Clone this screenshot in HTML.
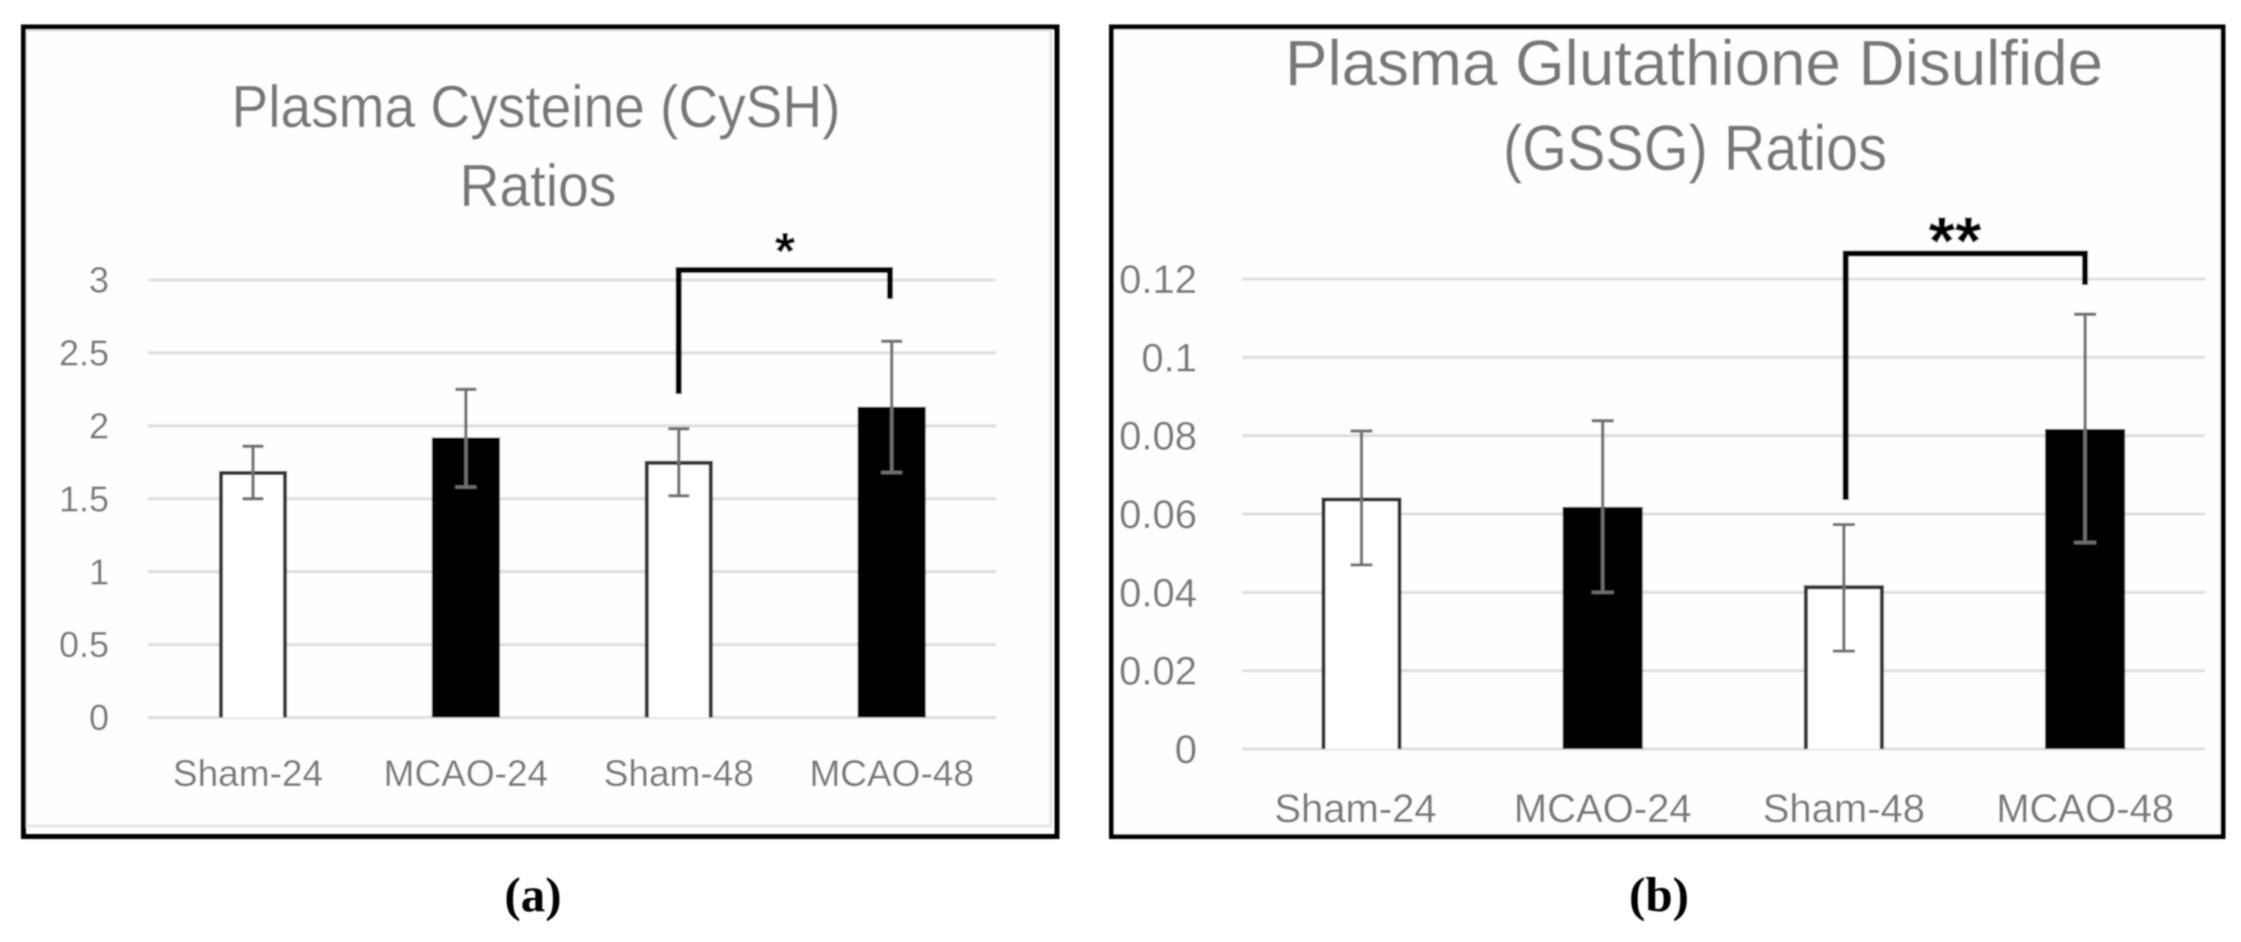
<!DOCTYPE html>
<html lang="en">
<head>
<meta charset="utf-8">
<title>Plasma Cysteine and Glutathione Disulfide Ratios</title>
<style>
html,body{margin:0;padding:0;background:#fff;width:2241px;height:942px;overflow:hidden}
svg{display:block}
text{font-family:"Liberation Sans",sans-serif}
</style>
</head>
<body>
<svg id="figure" xmlns="http://www.w3.org/2000/svg" width="2241" height="942" viewBox="0 0 2241 942">
  <defs>
    <filter id="soft" x="-2%" y="-2%" width="104%" height="104%"><feGaussianBlur stdDeviation="0.9"/></filter>
  </defs>
  <g filter="url(#soft)">
    <g id="panel-a">
      <rect x="26" y="30" width="1025" height="796" fill="#fefefe" stroke="#e6e6e6" stroke-width="3"/>
      <rect x="23.5" y="27" width="1033.5" height="809.5" fill="none" stroke="#000" stroke-width="5"/>
      <text x="536" y="127" font-size="59" fill="#777" text-anchor="middle" textLength="609" lengthAdjust="spacingAndGlyphs">Plasma Cysteine (CySH)</text>
      <text x="538" y="206" font-size="59" fill="#777" text-anchor="middle" textLength="157" lengthAdjust="spacingAndGlyphs">Ratios</text>
      <g id="plot-a"></g>
      <path d="M678.7 394V270H890V299" fill="none" stroke="#000" stroke-width="6"/>
      <text x="785" y="269" font-size="52" font-weight="bold" fill="#000" text-anchor="middle">*</text>
      <text x="533" y="911" font-size="49" font-weight="bold" fill="#000" text-anchor="middle" style="font-family:'Liberation Serif',serif">(a)</text>
    </g>
    <g id="panel-b">
      <rect x="1111.5" y="27" width="1111.5" height="809.5" fill="#fefefe" stroke="#000" stroke-width="5"/>
      <text x="1694" y="85" font-size="64" fill="#777" text-anchor="middle" textLength="818" lengthAdjust="spacingAndGlyphs">Plasma Glutathione Disulfide</text>
      <text x="1695" y="170" font-size="64" fill="#777" text-anchor="middle" textLength="384" lengthAdjust="spacingAndGlyphs">(GSSG) Ratios</text>
      <g id="plot-b"></g>
      <path d="M1845.7 500V253.5H2085V285" fill="none" stroke="#000" stroke-width="6"/>
      <text x="1955" y="264" font-size="68" font-weight="bold" fill="#000" text-anchor="middle">**</text>
      <text x="1659" y="911" font-size="49" font-weight="bold" fill="#000" text-anchor="middle" style="font-family:'Liberation Serif',serif">(b)</text>
    </g>
  </g>
</svg>
<script>
const categories = ['Sham-24', 'MCAO-24', 'Sham-48', 'MCAO-48'];
const barFilled = [false, true, false, true];

const cysteineTicks = [0, 0.5, 1, 1.5, 2, 2.5, 3];
const cysteineTickLabels = ['0', '0.5', '1', '1.5', '2', '2.5', '3'];
const cysteineValues = [1.69, 1.92, 1.76, 2.13];
const cysteineErrorHigh = [1.86, 2.25, 1.98, 2.58];
const cysteineErrorLow = [1.50, 1.58, 1.52, 1.68];

const gssgTicks = [0, 0.02, 0.04, 0.06, 0.08, 0.1, 0.12];
const gssgTickLabels = ['0', '0.02', '0.04', '0.06', '0.08', '0.1', '0.12'];
const gssgValues = [0.0642, 0.0618, 0.0418, 0.0817];
const gssgErrorHigh = [0.0812, 0.0838, 0.0573, 0.111];
const gssgErrorLow = [0.047, 0.040, 0.025, 0.0527];

const SVG_NS = 'http://www.w3.org/2000/svg';
function make(tag, attrs) {
  const el = document.createElementNS(SVG_NS, tag);
  for (const k in attrs) el.setAttribute(k, attrs[k]);
  return el;
}

function drawChart(root, layout, ticks, tickLabels, values, errHigh, errLow) {
  const yScale = v => layout.y0 + (layout.yMax - layout.y0) * v / layout.maxValue;
  const xScale = i => layout.x0 + layout.step * i;

  ticks.forEach((t, i) => {
    const grid = make('line', { x1: layout.gridLeft, x2: layout.gridRight, y1: yScale(t), y2: yScale(t), stroke: '#dedede', 'stroke-width': 3 });
    
    
    root.appendChild(grid);

    const label = make('text', { x: layout.tickX, y: yScale(t) + layout.fontSize * 0.35, 'font-size': layout.fontSize, fill: '#777', 'text-anchor': 'end' });
    
    
    label.textContent = tickLabels[i];
    root.appendChild(label);
  });

  categories.forEach((name, i) => {
    const cx = xScale(i);
    const half = layout.barWidth / 2;
    const top = yScale(values[i]);
    const base = yScale(0);

    let bar;
    if (barFilled[i]) {
      bar = make('rect', { x: cx - half, y: top, width: layout.barWidth, height: base - top, fill: '#000' });
    } else {
      bar = make('path', { d: 'M' + (cx - half + 2) + ' ' + base + 'V' + (top + 2) + 'H' + (cx + half - 2) + 'V' + base, fill: '#fff', stroke: '#333', 'stroke-width': 4 });
    }
    
    
    root.appendChild(bar);

    const hi = yScale(errHigh[i]);
    const lo = yScale(errLow[i]);
    const errorBar = make('path', {
      d: 'M' + cx + ' ' + hi + 'V' + lo +
         'M' + (cx - layout.capHalf) + ' ' + hi + 'H' + (cx + layout.capHalf) +
         'M' + (cx - layout.capHalf) + ' ' + lo + 'H' + (cx + layout.capHalf),
      fill: 'none', stroke: '#707070', 'stroke-width': 3.2
    });
    
    
    root.appendChild(errorBar);

    const cat = make('text', { x: cx - (i === 0 ? layout.firstLabelShift : 0), y: layout.catY, 'font-size': layout.labelSize, fill: '#777', 'text-anchor': 'middle' });
    
    
    cat.textContent = name;
    root.appendChild(cat);
  });
}

drawChart(document.getElementById('plot-a'),
  { x0: 253, step: 212.9, barWidth: 68, y0: 717.5, yMax: 280, maxValue: 3, gridLeft: 148, gridRight: 996, tickX: 109, catY: 786, fontSize: 36, labelSize: 37, capHalf: 10.5, firstLabelShift: 5 },
  cysteineTicks, cysteineTickLabels, cysteineValues, cysteineErrorHigh, cysteineErrorLow);

drawChart(document.getElementById('plot-b'),
  { x0: 1361.5, step: 241.2, barWidth: 80, y0: 749, yMax: 279, maxValue: 0.12, gridLeft: 1242, gridRight: 2205, tickX: 1197, catY: 822, fontSize: 40, labelSize: 40, capHalf: 11, firstLabelShift: 6 },
  gssgTicks, gssgTickLabels, gssgValues, gssgErrorHigh, gssgErrorLow);
</script>
</body>
</html>
